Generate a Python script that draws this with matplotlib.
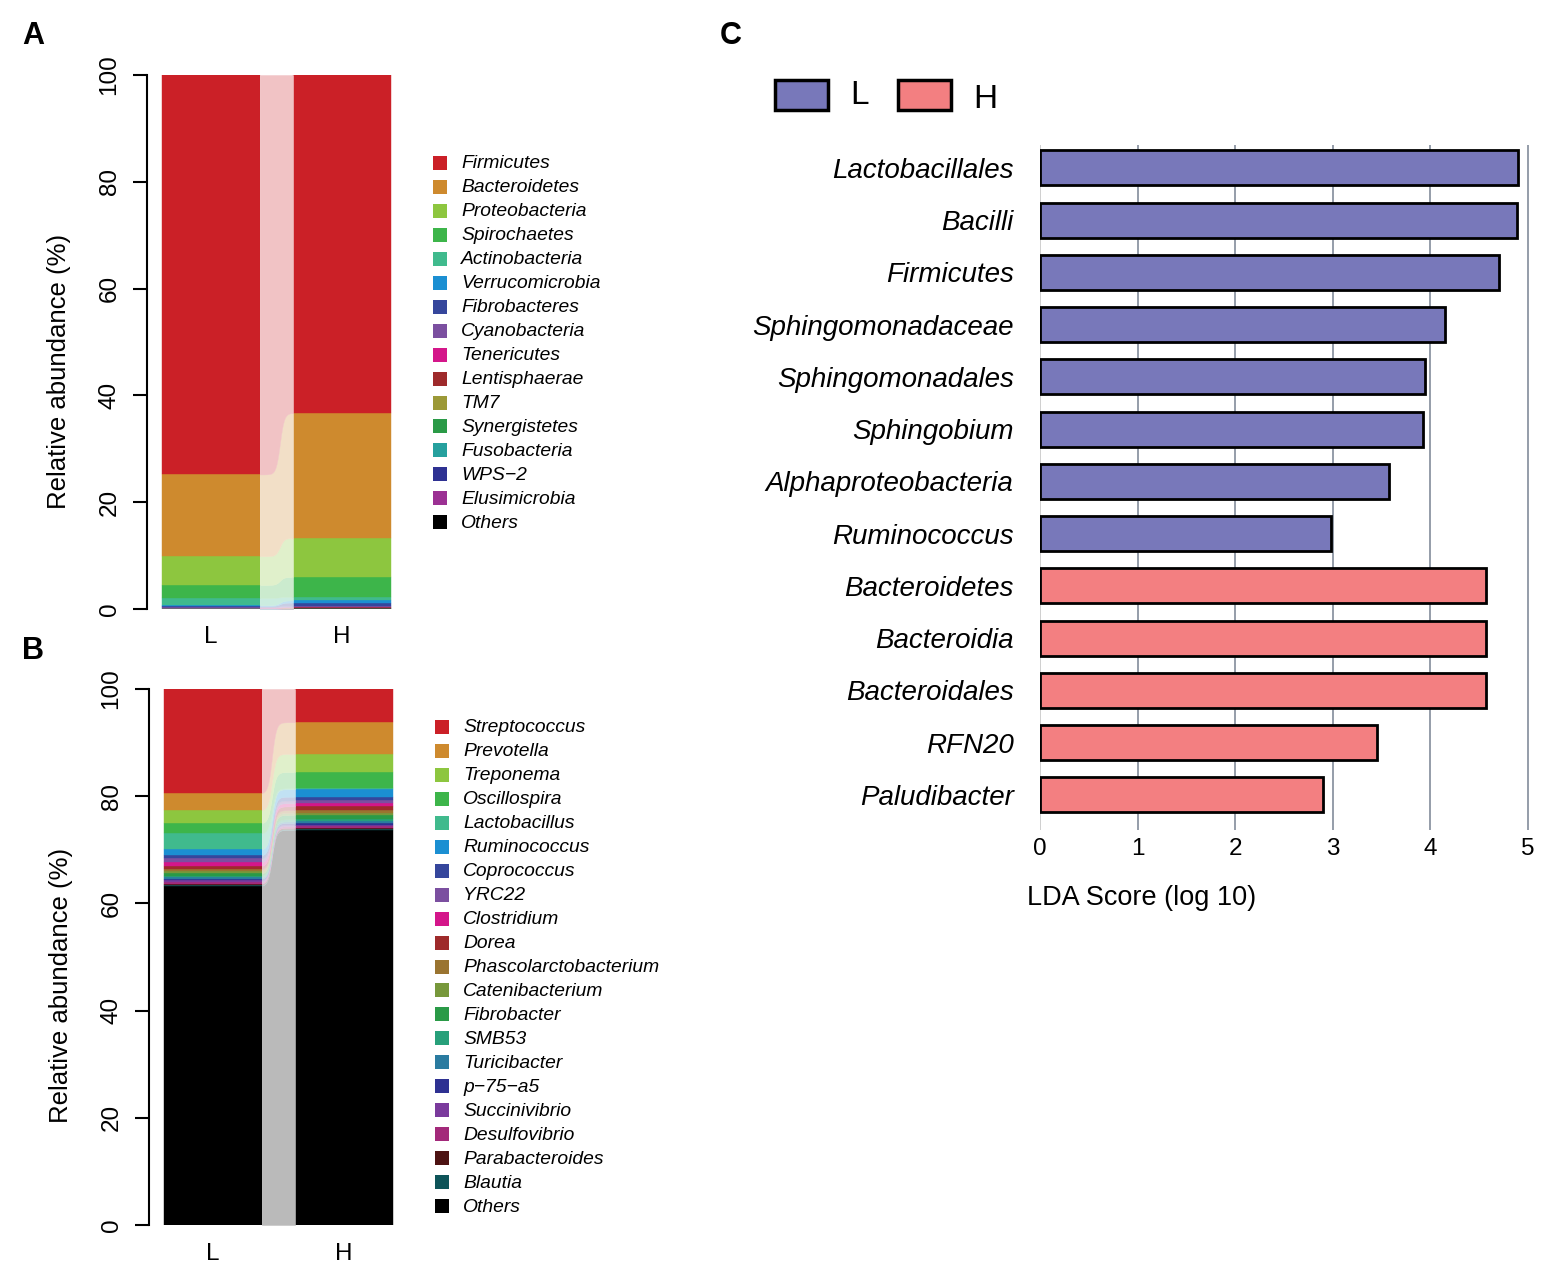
import numpy as np
import matplotlib
matplotlib.use("Agg")
import matplotlib.pyplot as plt
from matplotlib.patches import Rectangle
from matplotlib.colors import to_rgb

plt.rcParams["font.family"] = ["Liberation Sans", "DejaVu Sans"]

# ── Data ──────────────────────────────────────────────────────────────────────

GROUPS = ["L", "H"]

PHYLA = ["Firmicutes", "Bacteroidetes", "Proteobacteria", "Spirochaetes",
         "Actinobacteria", "Verrucomicrobia", "Fibrobacteres", "Cyanobacteria",
         "Tenericutes", "Lentisphaerae", "TM7", "Synergistetes", "Fusobacteria",
         "WPS\u22122", "Elusimicrobia", "Others"]
PHYLA_COLORS = ["#CB2027", "#CE8A2E", "#8DC63F", "#3DB54A", "#40BA8D", "#1B8FD2",
                "#35469C", "#7B4FA0", "#D4168A", "#9E2A2B", "#9C9937", "#2A9A47",
                "#26A09E", "#2E3192", "#9B3093", "#000000"]
PHYLA_L = [74.8, 15.3, 5.4, 2.4, 1.4, 0.15, 0.1, 0.2, 0.05, 0.03, 0.03, 0.03,
           0.03, 0.02, 0.03, 0.03]
PHYLA_H = [63.3, 23.4, 7.3, 3.7, 0.7, 0.4, 0.6, 0.2, 0.1, 0.05, 0.03, 0.05,
           0.02, 0.02, 0.02, 0.11]

GENERA = ["Streptococcus", "Prevotella", "Treponema", "Oscillospira",
          "Lactobacillus", "Ruminococcus", "Coprococcus", "YRC22", "Clostridium",
          "Dorea", "Phascolarctobacterium", "Catenibacterium", "Fibrobacter",
          "SMB53", "Turicibacter", "p\u221275\u2212a5", "Succinivibrio",
          "Desulfovibrio", "Parabacteroides", "Blautia", "Others"]
GENERA_COLORS = ["#CB2027", "#CE8A2E", "#8DC63F", "#3DB54A", "#40BA8D", "#1B8FD2",
                 "#35469C", "#7B4FA0", "#D4168A", "#9E2A2B", "#9A7430", "#77983B",
                 "#2A9A47", "#27A07A", "#2A7BA0", "#2E3192", "#7A3A9C", "#A3297A",
                 "#4D1212", "#0D5459", "#000000"]
GENERA_L = [19.4, 3.2, 2.4, 1.9, 3.0, 1.1, 0.6, 0.7, 0.7, 0.6, 0.4, 0.4, 0.4,
            0.3, 0.3, 0.3, 0.3, 0.3, 0.2, 0.2, 63.3]
GENERA_H = [6.2, 5.9, 3.4, 3.0, 0.2, 1.4, 0.7, 0.5, 0.6, 0.7, 0.5, 0.4, 0.8,
            0.4, 0.3, 0.3, 0.3, 0.3, 0.2, 0.2, 73.7]

LDA_TAXA = ["Lactobacillales", "Bacilli", "Firmicutes", "Sphingomonadaceae",
            "Sphingomonadales", "Sphingobium", "Alphaproteobacteria",
            "Ruminococcus", "Bacteroidetes", "Bacteroidia", "Bacteroidales",
            "RFN20", "Paludibacter"]
LDA_SCORES = [4.90, 4.89, 4.70, 4.15, 3.94, 3.92, 3.58, 2.98, 4.57, 4.57, 4.57,
              3.45, 2.90]
LDA_GROUP = ["L"] * 8 + ["H"] * 5
LDA_COLORS = {"L": "#7878BA", "H": "#F37F81"}
LDA_TICKS = [0, 1, 2, 3, 4, 5]

# ── Layout helpers ────────────────────────────────────────────────────────────

W, H = 1562, 1283


def fig_rect(left, top, right, bottom):
    return [left / W, 1 - bottom / H, (right - left) / W, (bottom - top) / H]


def lighten(c, f=0.27):
    r, g, b = to_rgb(c)
    return (1 - f + f * r, 1 - f + f * g, 1 - f + f * b)


def stacked_panel(ax, colors, vals_l, vals_h, label_pad, shift):
    # two stacked bars joined by pale ribbons (alluvial style)
    bar_w, gap = 1.0, 0.34
    x_l, x_h = 0.0, bar_w + gap
    t = np.linspace(0, 1, 80)
    s = 1 / (1 + np.exp(-(t - shift) * 16))
    s = (s - s[0]) / (s[-1] - s[0])
    xs = x_l + bar_w + t * gap
    base_l = base_h = 0.0
    for i in range(len(colors) - 1, -1, -1):
        vl, vh = vals_l[i], vals_h[i]
        ax.bar(x_l, vl, bar_w, bottom=base_l, align="edge", color=colors[i],
               edgecolor=colors[i], linewidth=0.3)
        ax.bar(x_h, vh, bar_w, bottom=base_h, align="edge", color=colors[i],
               edgecolor=colors[i], linewidth=0.3)
        lo = base_l + (base_h - base_l) * s
        hi = (base_l + vl) + ((base_h + vh) - (base_l + vl)) * s
        lc = lighten(colors[i])
        ax.fill_between(xs, lo, hi, color=lc, edgecolor=lc, linewidth=0.3)
        base_l += vl
        base_h += vh
    ax.set_xlim(-0.02, 2.38)
    ax.set_ylim(0, 100)
    ax.set_yticks([0, 20, 40, 60, 80, 100])
    ax.set_xticks([x_l + bar_w / 2, x_h + bar_w / 2])
    ax.set_xticklabels(GROUPS, fontsize=17.5)
    for sp in ["top", "right", "bottom"]:
        ax.spines[sp].set_visible(False)
    ax.spines["left"].set_position(("outward", 9.4))
    ax.spines["left"].set_linewidth(1.5)
    ax.tick_params(axis="y", length=10, width=1.5, labelsize=17.5, pad=9)
    ax.tick_params(axis="x", length=0, pad=label_pad)
    for lab in ax.get_yticklabels():
        lab.set_rotation(90)
        lab.set_va("center")


def side_legend(fig, names, colors, x_box, y_first, step):
    for k, (name, col) in enumerate(zip(names, colors)):
        y = y_first + k * step
        fig.add_artist(Rectangle(((x_box - 7) / W, 1 - (y + 7) / H), 14 / W, 14 / H,
                                 transform=fig.transFigure, facecolor=col,
                                 edgecolor="none"))
        fig.text((x_box + 21) / W, 1 - (y + 1) / H, name, fontsize=13.9,
                 style="italic", ha="left", va="center")


# ── Figure ────────────────────────────────────────────────────────────────────

fig = plt.figure(figsize=(W / 100, H / 100), dpi=100)

ax_a = fig.add_axes(fig_rect(160, 75, 395, 609))
stacked_panel(ax_a, PHYLA_COLORS, PHYLA_L, PHYLA_H, label_pad=12, shift=0.6)
side_legend(fig, PHYLA, PHYLA_COLORS, 440, 163, 23.95)
fig.text(59 / W, 1 - 371 / H, "Relative abundance (%)", rotation=90, fontsize=18.5,
         ha="center", va="center")

ax_b = fig.add_axes(fig_rect(162, 689, 397, 1225))
stacked_panel(ax_b, GENERA_COLORS, GENERA_L, GENERA_H, label_pad=13, shift=0.3)
side_legend(fig, GENERA, GENERA_COLORS, 442, 727, 23.95)
fig.text(61 / W, 1 - 985 / H, "Relative abundance (%)", rotation=90, fontsize=18.5,
         ha="center", va="center")

# panel C: LDA scores
ax_c = fig.add_axes(fig_rect(1040, 145, 1530, 830))
rows = np.arange(len(LDA_TAXA))
ax_c.barh(rows, LDA_SCORES, height=0.67,
          color=[LDA_COLORS[g] for g in LDA_GROUP],
          edgecolor="black", linewidth=2, zorder=3)
for v in LDA_TICKS:
    ax_c.axvline(v, color="#CCCCCC" if v == 0 else "#8C95A3", lw=1.3, zorder=1)
ax_c.set_xlim(0, 5.02)
ax_c.set_ylim(12.67, -0.44)
ax_c.set_yticks(rows)
ax_c.set_yticklabels(LDA_TAXA, fontsize=20, style="italic")
ax_c.set_xticks(LDA_TICKS)
ax_c.set_xticklabels([str(v) for v in LDA_TICKS], fontsize=17.5)
ax_c.tick_params(axis="y", length=0, pad=19)
ax_c.tick_params(axis="x", length=0, pad=6)
for sp in ax_c.spines.values():
    sp.set_visible(False)
fig.text(1142 / W, 1 - 898 / H, "LDA Score (log 10)", fontsize=19.5,
         ha="center", va="center")

# legend for C
for (x0, g, tx, ty) in [(775, "L", 850, 95), (898, "H", 973, 100)]:
    fig.add_artist(Rectangle((x0 / W, 1 - 110 / H), 53 / W, 30 / H,
                             transform=fig.transFigure, facecolor=LDA_COLORS[g],
                             edgecolor="black", linewidth=2.5))
    fig.text(tx / W, 1 - ty / H, g, fontsize=24, ha="left", va="center")

for lab, x, y in [("A", 33, 36), ("B", 33, 651), ("C", 731, 36)]:
    fig.text(x / W, 1 - y / H, lab, fontsize=22, fontweight="bold",
             ha="center", va="center")

fig.savefig("out.png", dpi=100)
